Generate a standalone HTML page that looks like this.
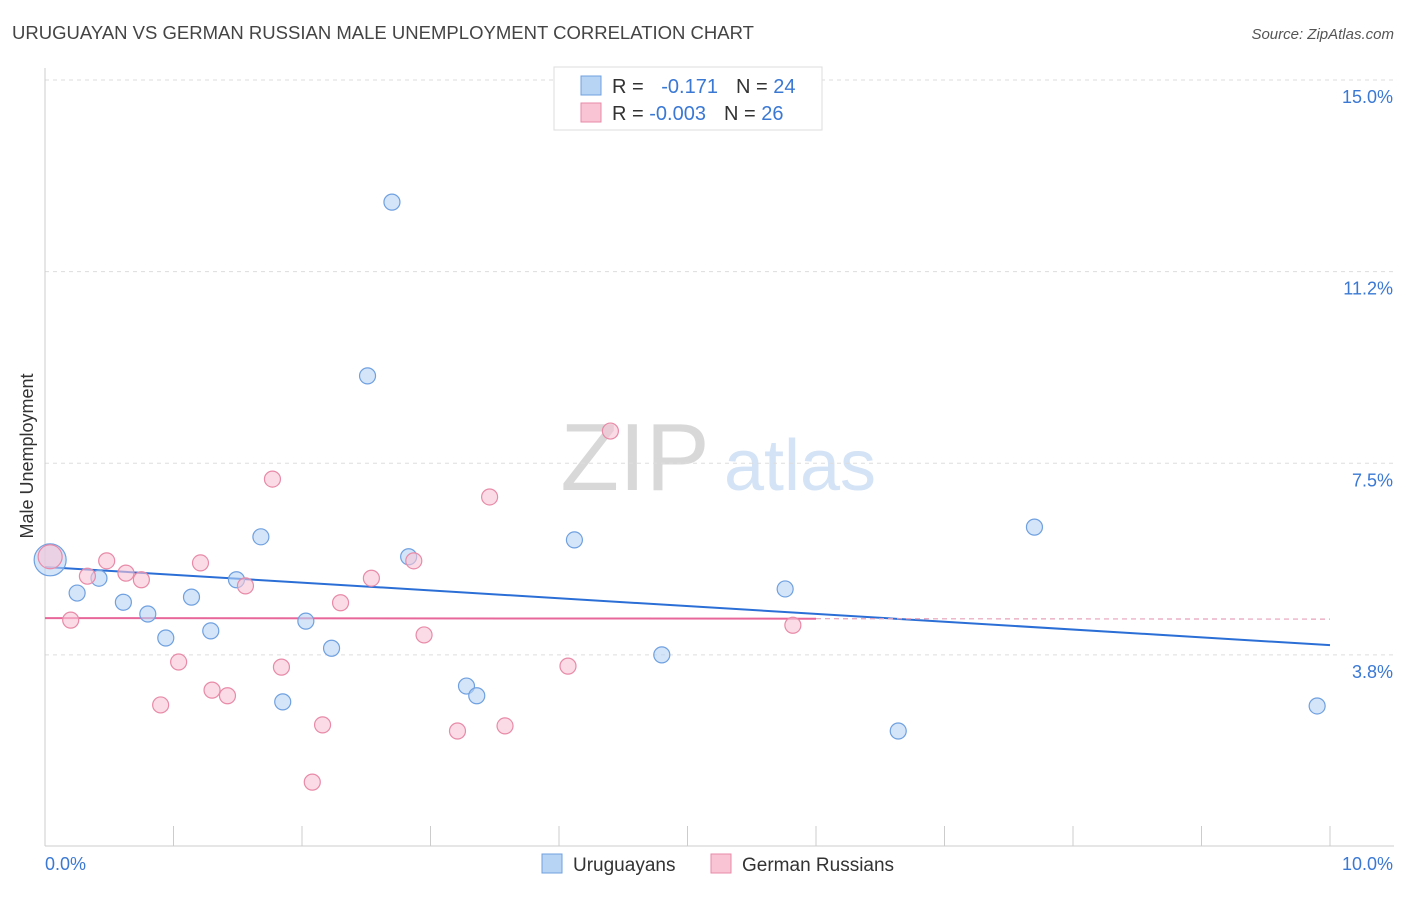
<!DOCTYPE html>
<html><head><meta charset="utf-8">
<style>
body{margin:0;background:#fff;font-family:"Liberation Sans",sans-serif;}
svg text{font-family:"Liberation Sans",sans-serif;}
</style></head>
<body>
<svg id="chart" width="1406" height="892" viewBox="0 0 1406 892" xmlns="http://www.w3.org/2000/svg">
<text x="12" y="39" font-size="18" fill="#444" textLength="742" lengthAdjust="spacingAndGlyphs">URUGUAYAN VS GERMAN RUSSIAN MALE UNEMPLOYMENT CORRELATION CHART</text>
<text x="1394" y="39" font-size="15" fill="#555" text-anchor="end" font-style="italic">Source: ZipAtlas.com</text>
<g>
<text x="635" y="490" font-size="96" fill="#d8d8d8" text-anchor="middle" font-family="Liberation Serif,serif">ZIP</text>
<text x="800" y="490" font-size="72" fill="#d4e3f5" text-anchor="middle">atlas</text>
</g>
<g id="grid"></g>
<g id="axes"></g>
<g id="trends"></g>
<g id="points"></g>
<text transform="translate(33,456) rotate(-90)" font-size="18" fill="#333" text-anchor="middle">Male Unemployment</text>
<g>
<rect x="554" y="67" width="268" height="63" fill="#fff" stroke="#ddd"/>
<rect x="581" y="76" width="20" height="19" fill="#b8d4f5" stroke="#6fa0e0"/>
<rect x="581" y="103" width="20" height="19" fill="#f9c5d5" stroke="#e88aa8"/>
<text x="612" y="93" font-size="20" fill="#333">R = <tspan fill="#3a78d4" dx="12">-0.171</tspan><tspan dx="18">N = </tspan><tspan fill="#3a78d4">24</tspan></text>
<text x="612" y="120" font-size="20" fill="#333">R = <tspan fill="#3a78d4">-0.003</tspan><tspan dx="18">N = </tspan><tspan fill="#3a78d4">26</tspan></text>
</g>
<g>
<rect x="542" y="854" width="20" height="19" fill="#b8d4f5" stroke="#6fa0e0"/>
<text x="573" y="871" font-size="19" fill="#333">Uruguayans</text>
<rect x="711" y="854" width="20" height="19" fill="#f9c5d5" stroke="#e88aa8"/>
<text x="742" y="871" font-size="19" fill="#333">German Russians</text>
</g>
</svg>
<script>
const yTicks=[3.75,7.5,11.25,15];
const yTickLabels=["3.8%","7.5%","11.2%","15.0%"];
const xTicks=[0,1,2,3,4,5,6,7,8,9,10];
const blueX=[0.04,0.25,0.42,0.61,0.80,0.94,1.14,1.29,1.49,1.68,1.85,2.03,2.23,2.51,2.70,2.83,3.28,3.36,4.12,4.80,5.76,6.64,7.70,9.90];
const blueY=[5.61,4.96,5.25,4.78,4.55,4.08,4.88,4.22,5.22,6.06,2.83,4.41,3.88,9.21,12.61,5.67,3.14,2.95,6.0,3.75,5.04,2.26,6.25,2.75];
const pinkX=[0.04,0.20,0.33,0.48,0.63,0.75,0.90,1.04,1.21,1.30,1.42,1.56,1.77,1.84,2.08,2.16,2.30,2.54,2.87,2.95,3.21,3.46,3.58,4.07,4.40,5.82];
const pinkY=[5.67,4.43,5.29,5.59,5.35,5.22,2.77,3.61,5.55,3.06,2.95,5.10,7.19,3.51,1.26,2.38,4.77,5.25,5.59,4.14,2.26,6.84,2.36,3.53,8.13,4.33];
const blueTrend=[5.47,3.94];
const pinkTrend=[4.47,4.45];
const pinkSolidEnd=6.0;
const NS="http://www.w3.org/2000/svg";
const X=v=>45+v*128.5;
const Y=v=>80+(15-v)*51.1;
function mk(tag,attrs,parent){const e=document.createElementNS(NS,tag);for(const k in attrs)e.setAttribute(k,attrs[k]);parent.appendChild(e);return e;}
const grid=document.getElementById('grid'),axes=document.getElementById('axes'),tr=document.getElementById('trends'),pts=document.getElementById('points');
yTicks.forEach((t,i)=>{
 const l=mk('line',{x1:45,x2:1394,y1:Y(t),y2:Y(t),stroke:'#ddd','stroke-dasharray':'4,4'},grid);
 
 
 const tx=mk('text',{x:1393,y:Y(t)+23,'font-size':18,fill:'#3a78d4','text-anchor':'end'},axes);
 tx.textContent=yTickLabels[i];
 
 
});
const ya=mk('line',{x1:45,x2:45,y1:68,y2:846,stroke:'#ccc'},axes);


const xa=mk('line',{x1:45,x2:1394,y1:846,y2:846,stroke:'#ccc'},axes);


xTicks.forEach(t=>{
 const l=mk('line',{x1:X(t),x2:X(t),y1:826,y2:846,stroke:'#ccc'},axes);
 
 
});
const x0=mk('text',{x:45,y:870,'font-size':18,fill:'#3a78d4'},axes);x0.textContent='0.0%';


const x1=mk('text',{x:1393,y:870,'font-size':18,fill:'#3a78d4','text-anchor':'end'},axes);x1.textContent='10.0%';


function dot(x,y,r,fill,stroke,name){
 const c=mk('circle',{cx:X(x),cy:Y(y),r:r,fill:fill,'fill-opacity':0.6,stroke:stroke,'stroke-width':1.2},pts);
 
 
}
blueX.forEach((x,i)=>dot(x,blueY[i],i===0?16:8,'#b8d4f5','#6fa0e0','uruguayan-point'));
pinkX.forEach((x,i)=>dot(x,pinkY[i],i===0?12:8,'#f9c5d5','#e88aa8','german-russian-point'));
const bt=mk('line',{x1:X(0),y1:Y(blueTrend[0]),x2:X(10),y2:Y(blueTrend[1]),stroke:'#2b6fd6','stroke-width':2},tr);


const pv=x=>pinkTrend[0]+(pinkTrend[1]-pinkTrend[0])*x/10;
const pt=mk('line',{x1:X(0),y1:Y(pv(0)),x2:X(pinkSolidEnd),y2:Y(pv(pinkSolidEnd)),stroke:'#e8679a','stroke-width':2},tr);


const pd=mk('line',{x1:X(pinkSolidEnd),y1:Y(pv(pinkSolidEnd)),x2:X(10),y2:Y(pv(10)),stroke:'#e8a0ba','stroke-width':1.2,'stroke-dasharray':'5,4'},tr);


</script>
</body></html>
